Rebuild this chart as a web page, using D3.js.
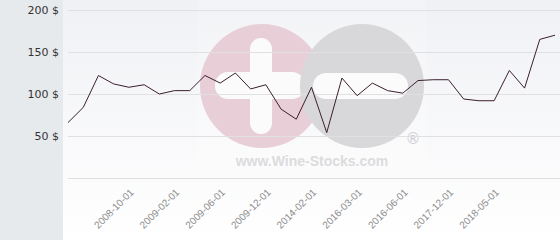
<!DOCTYPE html>
<html>
<head>
<meta charset="utf-8">
<script src="https://cdn.jsdelivr.net/npm/d3@7"></script>
<style>
  body { margin: 0; }
  svg { display: block; }
</style>
</head>
<body>
<figure id="price" style="margin:0"></figure>
<script>
// dates of the points, null where the picture shows no label
const dates = [
  null, null, null, null, "2008-10-01", null, null, "2009-02-01", null, null,
  "2009-06-01", null, null, "2009-12-01", null, null, "2014-02-01", null, null,
  "2016-03-01", null, null, "2016-06-01", null, null, "2017-12-01", null, null,
  "2018-05-01", null, null, null, null
];
const prices = [
  66, 84, 122, 112, 108, 111, 100, 104, 104, 122,
  113, 125, 106, 111, 82, 70, 108, 54, 119, 98,
  113, 104, 101, 116, 117, 117, 94, 92, 92, 128,
  107, 165, 170
];
const yTicks = [0, 50, 100, 150, 200];

const width = 560;
const height = 240;
const panel = 63;
const margin = { left: 68, right: 5, top: 10, bottom: 62 };

const svg = d3.select("figure#price")
  .append("svg")
  .attr("width", width)
  .attr("height", height);

// backgrounds
const grad = svg.append("defs").append("linearGradient")
  .attr("id", "bg").attr("x1", 0).attr("y1", 0).attr("x2", 0).attr("y2", 1);
grad.append("stop").attr("offset", "0%").attr("stop-color", "#f0f1f5");
grad.append("stop").attr("offset", "100%").attr("stop-color", "#ffffff");

svg.append("rect").attr("x", 0).attr("y", 0).attr("width", panel).attr("height", height)
  .attr("fill", "#e7eaed");
svg.append("rect").attr("x", panel).attr("y", 0).attr("width", width - panel).attr("height", height)
  .attr("fill", "url(#bg)");

const x = d3.scaleLinear()
  .domain([0, prices.length - 1])
  .range([margin.left, width - margin.right]);

const y = d3.scaleLinear()
  .domain([0, 200])
  .range([178, margin.top]);

// watermark
const wm = svg.append("g");
wm.append("rect").attr("x", 197).attr("y", 0).attr("width", 230).attr("height", 173)
  .attr("fill", "#ffffff").attr("opacity", 0.18);
wm.append("circle").attr("cx", 262).attr("cy", 86).attr("r", 62).attr("fill", "#e8cfd7");
wm.append("rect").attr("x", 250).attr("y", 38).attr("width", 22).attr("height", 96).attr("rx", 11)
  .attr("fill", "#fbfbfc");
wm.append("rect").attr("x", 215).attr("y", 72).attr("width", 90).attr("height", 27).attr("rx", 13)
  .attr("fill", "#fbfbfc");
wm.append("circle").attr("cx", 362).attr("cy", 86).attr("r", 62).attr("fill", "#d8d8da");
wm.append("rect").attr("x", 313).attr("y", 73).attr("width", 95).attr("height", 26).attr("rx", 13)
  .attr("fill", "#fbfbfc");
wm.append("text").attr("x", 413).attr("y", 139).attr("text-anchor", "middle")
  .attr("dominant-baseline", "central")
  .style("font", "15px 'DejaVu Sans'").attr("fill", "#cfcfd2").text("®");
wm.append("text").attr("x", 312).attr("y", 166).attr("text-anchor", "middle")
  .style("font", "bold 14px 'Liberation Sans'").attr("fill", "#dcdcde").text("www.Wine-Stocks.com");

// y axis with grid
const yAxis = svg.append("g")
  .attr("transform", "translate(" + margin.left + ",0)")
  .call(d3.axisLeft(y)
    .tickValues(yTicks)
    .tickSize(-(width - margin.left))
    .tickPadding(9)
    .tickFormat(d => d === 0 ? "" : d + " $"));
yAxis.select(".domain").remove();
yAxis.selectAll("line").attr("stroke", "#e0e0e3");
yAxis.selectAll("text")
  .style("font", "11px 'DejaVu Sans'")
  .attr("fill", "#333");

// x axis labels
const xAxis = svg.append("g")
  .attr("transform", "translate(0,178)")
  .call(d3.axisBottom(x)
    .tickValues(dates.map((d, i) => d ? i : null).filter(i => i !== null))
    .tickSize(0)
    .tickFormat(i => dates[i]));
xAxis.select(".domain").remove();
xAxis.selectAll("text")
  .attr("x", 0).attr("y", 0).attr("dy", 0)
  .attr("transform", "translate(5,15) rotate(-45)")
  .style("text-anchor", "end")
  .style("font", "10px 'Liberation Sans'")
  .attr("fill", "#8c8c8c");

// price line
const line = d3.line()
  .x((d, i) => x(i))
  .y(d => y(d));

svg.append("path")
  .datum(prices)
  .attr("fill", "none")
  .attr("stroke", "#3a1f2d")
  .attr("stroke-width", 1)
  .attr("d", line);
</script>
</body>
</html>
